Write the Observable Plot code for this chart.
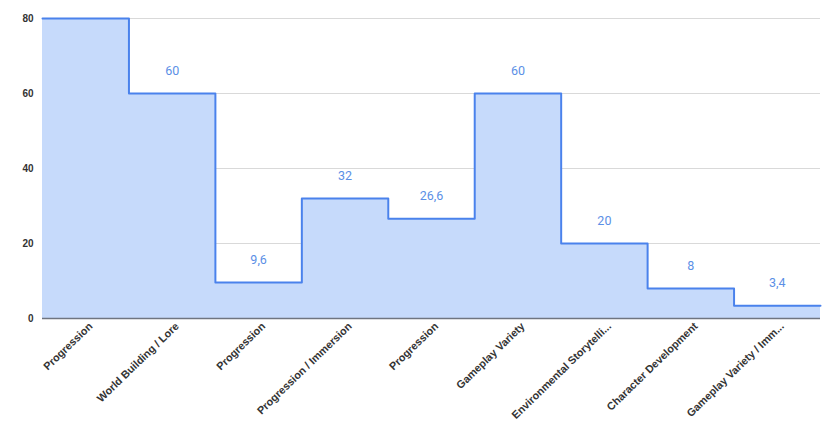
<!DOCTYPE html>
<html>
<head>
<meta charset="utf-8">
<script src="https://cdn.jsdelivr.net/npm/d3@7"></script>
<script src="https://cdn.jsdelivr.net/npm/@observablehq/plot@0.6"></script>
<style>
  html, body { margin: 0; padding: 0; background: #fff; }
  #chart svg { display: block; }
</style>
</head>
<body>
<div id="chart"></div>
<script>
// Categories along the x axis, in order
const categories = [
  "Progression",
  "World Building / Lore",
  "Progression",
  "Progression / Immersion",
  "Progression",
  "Gameplay Variety",
  "Environmental Storytelli...",
  "Character Development",
  "Gameplay Variety / Imm..."
];

// Value of each category
const values = [80, 60, 9.6, 32, 26.6, 60, 20, 8, 3.4];

// Y axis ticks
const yTicks = [0, 20, 40, 60, 80];
const yMax = 80;

const lineColor = "#4a82ec";
const fillColor = "#c6dafb";

// One row per category; the extra closing row carries the last step to the right edge
const rows = values.map((v, i) => ({i, v}));
const stepRows = rows.concat([{i: values.length, v: values[values.length - 1]}]);

const fmt = v => String(v).replace(".", ",");

const chart = Plot.plot({
  width: 826,
  height: 430,
  marginLeft: 42,
  marginRight: 6,
  marginTop: 18,
  marginBottom: 112,
  style: {background: "#fff", overflow: "hidden"},
  x: {type: "linear", domain: [0, categories.length], axis: null, label: null},
  y: {domain: [0, yMax], axis: null, label: null},
  marks: [
    Plot.gridY(yTicks.filter(t => t > 0), {stroke: "#d9d9d9", strokeOpacity: 1}),
    Plot.areaY(stepRows, {x: "i", y: "v", curve: "step-after", fill: fillColor}),
    Plot.ruleY([0], {stroke: "#6f7580", strokeWidth: 1.5}),
    Plot.lineY(stepRows, {x: "i", y: "v", curve: "step-after", stroke: lineColor, strokeWidth: 2}),
    Plot.axisY(yTicks, {
      label: null,
      tickSize: 0, tickPadding: 9,
      fontSize: 10, fontWeight: "bold", fill: "#333",
      fontFamily: "Liberation Sans, Arial, sans-serif"
    }),
    Plot.axisX(categories.map((c, i) => i + 0.5), {
      label: null,
      tickSize: 0, tickPadding: 6, tickRotate: -44,
      dx: 5,
      tickFormat: (d) => categories[Math.floor(d)],
      fontSize: 10.8, fontWeight: "bold", fill: "#333",
      fontFamily: "Liberation Sans, Arial, sans-serif"
    }),
    // Value labels above each step; a label for a step at the top of the scale would fall outside the frame
    Plot.text(rows.filter(d => d.v < yMax), {
      x: d => d.i + 0.5, y: "v", dy: -23,
      text: d => fmt(d.v),
      fill: "#5b8fe6", fontSize: 12.5,
      fontFamily: "Roboto, sans-serif"
    })
  ]
});

document.getElementById("chart").appendChild(chart);
</script>
</body>
</html>
